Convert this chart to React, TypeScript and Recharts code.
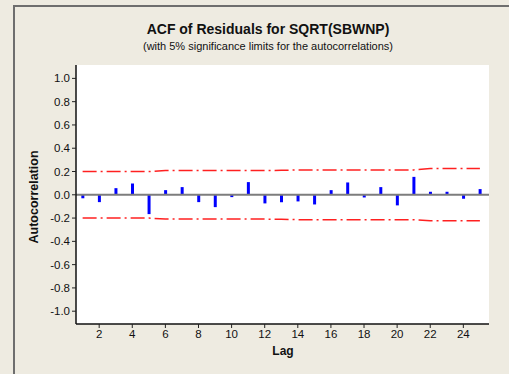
import React from 'react';
import {
  ComposedChart,
  Bar,
  Line,
  XAxis,
  YAxis,
  CartesianGrid,
  ReferenceLine,
} from 'recharts';

// lag numbers
const lags = [1, 2, 3, 4, 5, 6, 7, 8, 9, 10, 11, 12, 13, 14, 15, 16, 17, 18, 19, 20, 21, 22, 23, 24, 25];

// residual autocorrelations
const acfValues = [
  -0.03, -0.063, 0.057, 0.097, -0.166, 0.04, 0.066, -0.063, -0.106, -0.02,
  0.109, -0.074, -0.064, -0.057, -0.083, 0.04, 0.106, -0.023, 0.066, -0.091,
  0.154, 0.026, 0.026, -0.034, 0.049,
];

// 5% significance limits
const upperLimit = [
  0.2, 0.2, 0.2, 0.2, 0.2, 0.209, 0.209, 0.209, 0.209, 0.209,
  0.209, 0.209, 0.21, 0.214, 0.214, 0.214, 0.214, 0.214, 0.214, 0.214,
  0.214, 0.225, 0.225, 0.225, 0.225,
];
const lowerLimit = [
  -0.2, -0.2, -0.2, -0.2, -0.2, -0.209, -0.209, -0.209, -0.209, -0.209,
  -0.209, -0.209, -0.21, -0.214, -0.214, -0.214, -0.214, -0.214, -0.214, -0.214,
  -0.214, -0.224, -0.224, -0.224, -0.224,
];

const xTicks = [2, 4, 6, 8, 10, 12, 14, 16, 18, 20, 22, 24];
const yTicks = [-1.0, -0.8, -0.6, -0.4, -0.2, 0.0, 0.2, 0.4, 0.6, 0.8, 1.0];

const data = lags.map((lag, i) => ({
  lag,
  acf: acfValues[i],
  upper: upperLimit[i],
  lower: lowerLimit[i],
}));

const FONT = '"Liberation Sans", Arial, sans-serif';
const BG = '#eeebe1';

const tickStyle = { fill: '#111', fontSize: 11.5, fontFamily: FONT };

export default function App() {
  return (
    <div
      style={{
        position: 'fixed',
        left: 0,
        top: 0,
        width: 509,
        height: 374,
        background: BG,
        overflow: 'hidden',
        fontFamily: FONT,
      }}
    >
      {/* outer graph frame */}
      <div
        style={{
          position: 'absolute',
          left: 13,
          top: 5,
          width: 520,
          height: 400,
          borderLeft: '2px solid #6e6e6e',
          borderTop: '2px solid #6e6e6e',
        }}
      />
      <div style={{ position: 'absolute', left: 0, top: 0 }}>
        <ComposedChart
          width={509}
          height={374}
          data={data}
          margin={{ top: 65, right: 20, bottom: 20, left: 26 }}
        >
          <CartesianGrid horizontal={false} vertical={false} fill="#ffffff" />
          <XAxis
            dataKey="lag"
            type="number"
            domain={[0.6, 25.55]}
            ticks={xTicks}
            allowDataOverflow
            height={30}
            tick={tickStyle}
            tickSize={4}
            tickLine={{ stroke: '#222' }}
            axisLine={{ stroke: '#111', strokeWidth: 1.5 }}
          />
          <XAxis
            xAxisId="top"
            orientation="top"
            type="number"
            domain={[0, 1]}
            height={0}
            tick={false}
            tickLine={false}
            axisLine={{ stroke: '#9a9a9a' }}
          />
          <YAxis
            type="number"
            domain={[-1.11, 1.115]}
            ticks={yTicks}
            allowDataOverflow
            width={50}
            tick={tickStyle}
            tickSize={4}
            tickFormatter={(v: number) => v.toFixed(1)}
            tickLine={{ stroke: '#222' }}
            axisLine={{ stroke: '#111', strokeWidth: 1.5 }}
          />
          <YAxis
            yAxisId="right"
            orientation="right"
            type="number"
            domain={[0, 1]}
            width={0}
            tick={false}
            tickLine={false}
            axisLine={{ stroke: '#808080', strokeWidth: 2 }}
          />
          <ReferenceLine y={0} stroke="#7d7d7d" strokeWidth={2} />
          <Bar dataKey="acf" fill="#0000ff" barSize={3} isAnimationActive={false} />
          <Line
            type="linear"
            dataKey="upper"
            stroke="#ff2020"
            strokeWidth={1.5}
            strokeDasharray="14 4 2 4"
            dot={false}
            activeDot={false}
            isAnimationActive={false}
          />
          <Line
            type="linear"
            dataKey="lower"
            stroke="#ff2020"
            strokeWidth={1.5}
            strokeDasharray="14 4 2 4"
            dot={false}
            activeDot={false}
            isAnimationActive={false}
          />
        </ComposedChart>
      </div>
      {/* titles */}
      <div
        style={{
          position: 'absolute',
          left: 0,
          width: 536,
          top: 21,
          textAlign: 'center',
          fontWeight: 'bold',
          fontSize: 14,
          color: '#111',
          whiteSpace: 'nowrap',
        }}
      >
        ACF of Residuals for SQRT(SBWNP)
      </div>
      <div
        style={{
          position: 'absolute',
          left: 0,
          width: 536,
          top: 40,
          textAlign: 'center',
          fontSize: 11,
          color: '#111',
          whiteSpace: 'nowrap',
        }}
      >
        (with 5% significance limits for the autocorrelations)
      </div>
      <div
        style={{
          position: 'absolute',
          left: 233,
          width: 100,
          top: 344,
          textAlign: 'center',
          fontWeight: 'bold',
          fontSize: 12,
          color: '#111',
        }}
      >
        Lag
      </div>
      <div
        style={{
          position: 'absolute',
          left: 34,
          top: 197,
          transform: 'translate(-50%, -50%) rotate(-90deg)',
          fontWeight: 'bold',
          fontSize: 12.5,
          color: '#111',
          whiteSpace: 'nowrap',
        }}
      >
        Autocorrelation
      </div>
    </div>
  );
}
